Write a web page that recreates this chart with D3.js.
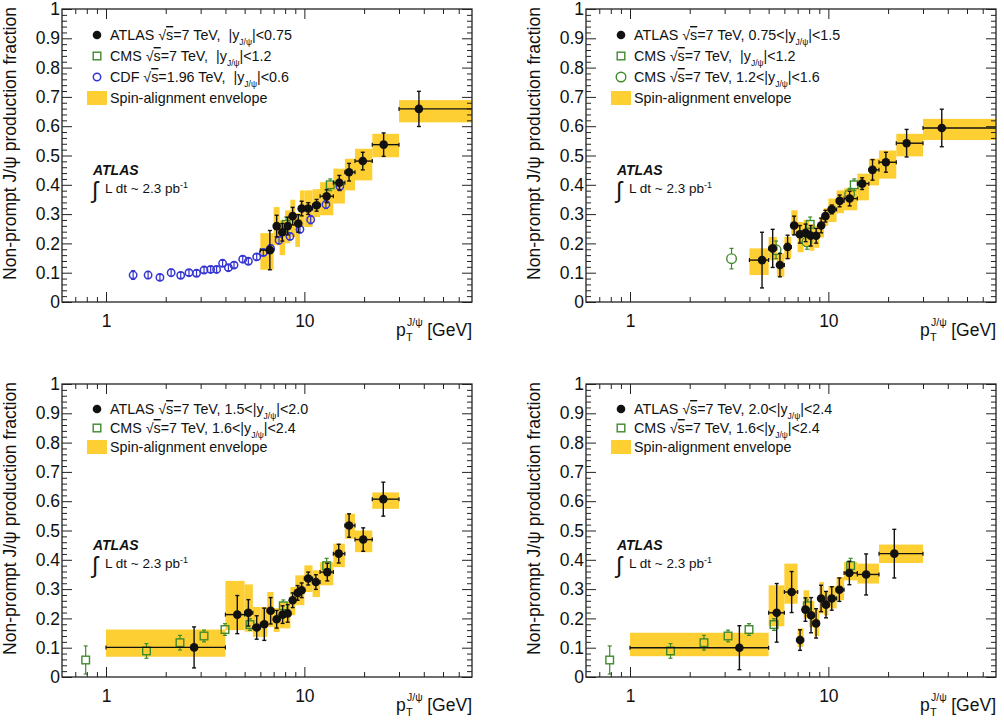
<!DOCTYPE html>
<html><head><meta charset="utf-8">
<script src="https://cdn.jsdelivr.net/npm/d3@7/dist/d3.min.js"></script>
<style>
body{margin:0;background:#fff}
text{font-family:"Liberation Sans",Arial,Helvetica,sans-serif;white-space:pre}
</style>
</head><body>
<svg id="c" width="1004" height="723"></svg>
<script>
// ---------------- DATA ----------------
const ptDomain = [0.6, 70];
const yMajorTicks = [0,0.1,0.2,0.3,0.4,0.5,0.6,0.7,0.8,0.9,1];
const yTickLabels = ["0","0.1","0.2","0.3","0.4","0.5","0.6","0.7","0.8","0.9","1"];
const xMajorTicks = [1,10];
const xTickLabels = ["1","10"];
const xMinorTicks = [0.7,0.8,0.9,2,3,4,5,6,7,8,9,20,30,40,50,60];

// ATLAS: [ptLo, ptHi, pt, fraction, statErr, envelopeLo, envelopeHi]
const atlasY0_075 = [
 [6,7,6.7,0.177,0.067,0.11,0.235],
 [7,7.5,7.25,0.259,0.037,0.194,0.324],
 [7.5,8,7.74,0.238,0.03,0.16,0.279],
 [8,8.5,8.24,0.259,0.03,0.2,0.313],
 [8.5,9,8.73,0.293,0.03,0.222,0.349],
 [9,9.5,9.32,0.268,0.03,0.188,0.303],
 [9.5,10,9.69,0.319,0.025,0.256,0.381],
 [10,11,10.46,0.319,0.02,0.256,0.381],
 [11,12,11.53,0.33,0.02,0.29,0.385],
 [12,14,12.95,0.361,0.022,0.296,0.409],
 [14,16,15.0,0.407,0.025,0.336,0.455],
 [16,18,16.8,0.443,0.03,0.381,0.489],
 [18,22,19.7,0.481,0.03,0.415,0.523],
 [22,30,25.1,0.537,0.04,0.494,0.574],
 [30,70,37.8,0.659,0.06,0.613,0.689]
];
const atlasY075_15 = [
 [4,5,4.63,0.143,0.095,0.092,0.183],
 [5,5.5,5.24,0.183,0.065,0.143,0.222],
 [5.5,6,5.7,0.126,0.04,0.086,0.166],
 [6,6.5,6.23,0.188,0.04,0.147,0.222],
 [6.5,7,6.72,0.261,0.032,0.228,0.313],
 [7,7.5,7.18,0.231,0.03,0.17,0.273],
 [7.5,8,7.68,0.236,0.03,0.19,0.28],
 [8,8.5,8.15,0.226,0.035,0.175,0.265],
 [8.5,9,8.68,0.226,0.025,0.185,0.26],
 [9,9.5,9.2,0.261,0.025,0.22,0.29],
 [9.5,10,9.66,0.293,0.02,0.26,0.32],
 [10,11,10.4,0.316,0.015,0.273,0.353],
 [11,12,11.4,0.345,0.02,0.303,0.381],
 [12,14,12.8,0.353,0.025,0.313,0.388],
 [14,16,14.8,0.404,0.02,0.347,0.438],
 [16,18,16.7,0.451,0.035,0.398,0.489],
 [18,22,19.5,0.477,0.034,0.421,0.517],
 [22,30,24.8,0.542,0.047,0.497,0.574],
 [30,70,37.3,0.594,0.064,0.553,0.625]
];
const atlasY15_20 = [
 [1,4,2.78,0.101,0.07,0.069,0.162],
 [4,5,4.59,0.213,0.065,0.16,0.328],
 [5,5.5,5.22,0.219,0.045,0.155,0.316],
 [5.5,6,5.75,0.169,0.04,0.137,0.239],
 [6,6.5,6.28,0.18,0.055,0.137,0.239],
 [6.5,7,6.76,0.226,0.045,0.171,0.29],
 [7,7.5,7.25,0.197,0.03,0.154,0.235],
 [7.5,8,7.77,0.213,0.03,0.166,0.256],
 [8,8.5,8.24,0.217,0.03,0.166,0.256],
 [8.5,9,8.73,0.262,0.025,0.211,0.307],
 [9,9.5,9.25,0.287,0.025,0.245,0.347],
 [9.5,10,9.69,0.296,0.025,0.245,0.347],
 [10,11,10.46,0.336,0.022,0.29,0.381],
 [11,12,11.43,0.324,0.025,0.273,0.364],
 [12,14,13.05,0.358,0.03,0.313,0.392],
 [14,16,14.9,0.421,0.032,0.375,0.455],
 [16,18,16.8,0.517,0.04,0.472,0.557],
 [18,22,19.8,0.469,0.04,0.426,0.5],
 [22,30,25.0,0.607,0.058,0.574,0.63]
];
const atlasY20_24 = [
 [1,5,3.56,0.1,0.075,0.071,0.151],
 [5,6,5.49,0.219,0.1,0.173,0.313],
 [6,7,6.53,0.29,0.07,0.25,0.387],
 [7,7.5,7.2,0.126,0.035,0.103,0.166],
 [7.5,8,7.66,0.23,0.04,0.2,0.296],
 [8,8.5,8.18,0.211,0.06,0.17,0.26],
 [8.5,9,8.67,0.183,0.05,0.14,0.23],
 [9,9.5,9.19,0.268,0.045,0.217,0.324],
 [9.5,10,9.73,0.247,0.045,0.21,0.29],
 [10,11,10.4,0.268,0.04,0.234,0.31],
 [11,12,11.36,0.298,0.04,0.262,0.341],
 [12,14,12.76,0.355,0.04,0.33,0.392],
 [14,18,15.5,0.35,0.07,0.319,0.387],
 [18,30,21.5,0.421,0.083,0.389,0.452]
];
// Other experiments: [pt, fraction, err]
const cdfY06 = [
 [1.37,0.092,0.015],[1.63,0.092,0.012],[1.87,0.084,0.01],[2.13,0.1,0.012],[2.38,0.091,0.01],
 [2.62,0.1,0.01],[2.86,0.098,0.01],[3.12,0.109,0.01],[3.37,0.111,0.01],[3.61,0.111,0.01],
 [3.87,0.132,0.01],[4.14,0.117,0.01],[4.42,0.126,0.01],[4.89,0.146,0.01],[5.22,0.139,0.01],
 [5.75,0.154,0.01],[6.21,0.169,0.01],[6.76,0.183,0.01],[7.45,0.211,0.012],[8.46,0.224,0.012],
 [9.5,0.248,0.012],[10.76,0.281,0.014],[12.85,0.333,0.014],[15.1,0.395,0.015]
];
const cmsY0_12 = [[8.1,0.265,0.025],[13.5,0.40,0.02]];
const cmsY12_16 = [[3.25,0.148,0.035],[5.45,0.178,0.03],[7.8,0.205,0.025],[12.8,0.368,0.02]];
const cmsY16_24 = [[0.79,0.058,0.048],[1.6,0.089,0.025],[2.36,0.117,0.025],[3.12,0.14,0.02],
 [3.98,0.162,0.02],[5.32,0.179,0.02],[7.83,0.243,0.02],[12.95,0.38,0.025]];

// Legend texts: [before subscript, subscript, after]
const legTL = [["ATLAS √s=7 TeV,  |y","J/ψ","|<0.75"],["CMS √s=7 TeV,  |y","J/ψ","|<1.2"],["CDF √s=1.96 TeV,  |y","J/ψ","|<0.6"],["Spin-alignment envelope","",""]];
const legTR = [["ATLAS √s=7 TeV, 0.75<|y","J/ψ","|<1.5"],["CMS √s=7 TeV,  |y","J/ψ","|<1.2"],["CMS √s=7 TeV, 1.2<|y","J/ψ","|<1.6"],["Spin-alignment envelope","",""]];
const legBL = [["ATLAS √s=7 TeV, 1.5<|y","J/ψ","|<2.0"],["CMS √s=7 TeV, 1.6<|y","J/ψ","|<2.4"],["Spin-alignment envelope","",""]];
const legBR = [["ATLAS √s=7 TeV, 2.0<|y","J/ψ","|<2.4"],["CMS √s=7 TeV, 1.6<|y","J/ψ","|<2.4"],["Spin-alignment envelope","",""]];

const yTitle = "Non-prompt J/ψ production fraction";
const lumiText = "L dt ~ 2.3 pb";

// ---------------- STYLE / LAYOUT ----------------
const C = {band:"#FECF33", atlas:"#111", cms:"#3f8a2c", cdf:"#3535d4", axis:"#222"};
const W = 410, H = 293;
const panels = [
 {left:62, top:9, atlas:atlasY0_075, others:[{kind:"cdf",data:cdfY06},{kind:"cmsSq",data:cmsY0_12}],
  legend:legTL, kinds:["atlas","cmsSq","cdf","band"], rowY:[26,47,68,89]},
 {left:586, top:9, atlas:atlasY075_15, others:[{kind:"cmsSq",data:cmsY0_12},{kind:"cmsCirc",data:cmsY12_16}],
  legend:legTR, kinds:["atlas","cmsSq","cmsCirc","band"], rowY:[26,47,68,89]},
 {left:62, top:384, atlas:atlasY15_20, others:[{kind:"cmsSq",data:cmsY16_24}],
  legend:legBL, kinds:["atlas","cmsSq","band"], rowY:[25,44,63]},
 {left:586, top:384, atlas:atlasY20_24, others:[{kind:"cmsSq",data:cmsY16_24}],
  legend:legBR, kinds:["atlas","cmsSq","band"], rowY:[25,44,63]}
];

const svg = d3.select("#c");
const x = d3.scaleLog().domain(ptDomain).range([0, W]);
const y = d3.scaleLinear().domain([0,1]).range([H, 0]);
const yMinor = d3.range(0, 1.0001, 0.02).filter(v => Math.abs(v*10 - Math.round(v*10)) > 1e-6);

function drawMarker(g, kind, cx, cy) {
  if (kind === "atlas") g.append("circle").attr("cx",cx).attr("cy",cy).attr("r",4.3).attr("fill",C.atlas);
  else if (kind === "cdf") g.append("circle").attr("cx",cx).attr("cy",cy).attr("r",3.7).attr("fill","none").attr("stroke",C.cdf).attr("stroke-width",1.5);
  else if (kind === "cmsCirc") g.append("circle").attr("cx",cx).attr("cy",cy).attr("r",4.8).attr("fill","none").attr("stroke",C.cms).attr("stroke-width",1.4);
  else if (kind === "cmsSq") g.append("rect").attr("x",cx-3.8).attr("y",cy-3.8).attr("width",7.6).attr("height",7.6).attr("fill","none").attr("stroke",C.cms).attr("stroke-width",1.4);
}
function vbar(g, cx, y1, y2, color, w) {
  g.append("line").attr("x1",cx).attr("x2",cx).attr("y1",y1).attr("y2",y2).attr("stroke",color).attr("stroke-width",w);
  [y1,y2].forEach(yy => g.append("line").attr("x1",cx-2).attr("x2",cx+2).attr("y1",yy).attr("y2",yy).attr("stroke",color).attr("stroke-width",w));
}

panels.forEach(p => {
  const g = svg.append("g").attr("transform", `translate(${p.left},${p.top})`);
  const clip = g.append("g");
  // envelope bands
  clip.selectAll("rect.band").data(p.atlas).enter().append("rect").attr("class","band")
    .attr("x", d => x(d[0])).attr("width", d => x(d[1]) - x(d[0]))
    .attr("y", d => y(d[6])).attr("height", d => y(d[5]) - y(d[6]))
    .attr("fill", C.band);
  // other experiments
  p.others.forEach(o => {
    const col = o.kind === "cdf" ? C.cdf : C.cms;
    const half = o.kind === "cdf" ? 0 : (o.kind === "cmsCirc" ? 4.8 : 3.8);
    o.data.forEach(d => {
      const cx = x(d[0]), cy = y(d[1]);
      const yt = y(d[1]+d[2]), yb = y(d[1]-d[2]);
      if (half === 0) vbar(clip, cx, yb, yt, col, 1.2);
      else {
        if (cy - half > yt) { clip.append("line").attr("x1",cx).attr("x2",cx).attr("y1",yt).attr("y2",cy-half).attr("stroke",col).attr("stroke-width",1.2);
          clip.append("line").attr("x1",cx-2).attr("x2",cx+2).attr("y1",yt).attr("y2",yt).attr("stroke",col).attr("stroke-width",1.2); }
        if (yb > cy + half) { clip.append("line").attr("x1",cx).attr("x2",cx).attr("y1",cy+half).attr("y2",yb).attr("stroke",col).attr("stroke-width",1.2);
          clip.append("line").attr("x1",cx-2).attr("x2",cx+2).attr("y1",yb).attr("y2",yb).attr("stroke",col).attr("stroke-width",1.2); }
      }
      drawMarker(clip, o.kind, cx, cy);
    });
  });
  // ATLAS points
  p.atlas.forEach(d => {
    const cy = y(d[3]);
    const xl = x(d[0]), xr = x(d[1]);
    clip.append("line").attr("x1",xl).attr("x2",xr).attr("y1",cy).attr("y2",cy).attr("stroke",C.atlas).attr("stroke-width",1.4);
    [xl,xr].forEach(xx => { if (xx > 1 && xx < W-1) clip.append("line").attr("x1",xx).attr("x2",xx).attr("y1",cy-2).attr("y2",cy+2).attr("stroke",C.atlas).attr("stroke-width",1.2); });
    vbar(clip, x(d[2]), y(d[3]-d[4]), y(d[3]+d[4]), C.atlas, 1.4);
    drawMarker(clip, "atlas", x(d[2]), cy);
  });

  // axes (ticks inward, ROOT style)
  const styleAxis = sel => { sel.selectAll("line").attr("stroke",C.axis); sel.select(".domain").remove(); };
  const lab = g.append("g").call(d3.axisLeft(y).tickValues(yMajorTicks).tickSize(-10).tickPadding(2)
      .tickFormat((d,i) => yTickLabels[i])).call(styleAxis);
  lab.selectAll("text").attr("font-size",17.5).attr("fill","#111").attr("font-family",'"Liberation Sans",Arial,sans-serif');
  g.append("g").call(d3.axisLeft(y).tickValues(yMinor).tickSize(-5).tickFormat("")).call(styleAxis);
  g.append("g").attr("transform",`translate(${W},0)`).call(d3.axisRight(y).tickValues(yMajorTicks).tickSize(-10).tickFormat("")).call(styleAxis);
  g.append("g").attr("transform",`translate(${W},0)`).call(d3.axisRight(y).tickValues(yMinor).tickSize(-5).tickFormat("")).call(styleAxis);
  const bx = g.append("g").attr("transform",`translate(0,${H})`).call(d3.axisBottom(x).tickValues(xMajorTicks).tickSize(-10).tickPadding(13)
      .tickFormat((d,i) => xTickLabels[i])).call(styleAxis);
  bx.selectAll("text").attr("font-size",17.5).attr("fill","#111").attr("font-family",'"Liberation Sans",Arial,sans-serif');
  g.append("g").attr("transform",`translate(0,${H})`).call(d3.axisBottom(x).tickValues(xMinorTicks).tickSize(-5).tickFormat("")).call(styleAxis);
  g.append("g").call(d3.axisTop(x).tickValues(xMajorTicks).tickSize(-10).tickFormat("")).call(styleAxis);
  g.append("g").call(d3.axisTop(x).tickValues(xMinorTicks).tickSize(-5).tickFormat("")).call(styleAxis);
  g.append("rect").attr("x",0).attr("y",0).attr("width",W).attr("height",H).attr("fill","none").attr("stroke",C.axis).attr("stroke-width",1.3);

  // y title
  const yt = g.append("text").attr("transform",`translate(${-46},-2) rotate(-90)`).attr("text-anchor","end")
    .attr("font-size",16).attr("fill","#111").text(yTitle);
  const L = yt.node().getComputedTextLength();
  yt.attr("font-size", 16*273/L);

  // x title
  const xt = g.append("g").attr("transform",`translate(${W},${H+34})`);
  xt.append("text").attr("text-anchor","end").attr("font-size",17.5).attr("fill","#111").text("[GeV]");
  xt.append("text").attr("x",-76).attr("font-size",17.5).attr("fill","#111").text("p");
  xt.append("text").attr("x",-66).attr("y",5).attr("font-size",11).attr("fill","#111").text("T");
  xt.append("text").attr("x",-65).attr("y",-10).attr("font-size",10.5).attr("fill","#111").text("J/ψ");

  // legend
  p.legend.forEach((row, i) => {
    const ry = p.rowY[i], kind = p.kinds[i];
    if (kind === "band") g.append("rect").attr("x",25).attr("y",ry-7).attr("width",20).attr("height",14).attr("fill",C.band);
    else drawMarker(g, kind, 35, ry);
    const t = g.append("text").attr("x",48).attr("y",ry+5).attr("font-size",14.3).attr("fill","#111");
    const parts = row[0].split("√s");
    if (parts.length > 1) {
      t.append("tspan").text(parts[0] + "√");
      t.append("tspan").style("text-decoration","overline").text("s");
      t.append("tspan").text(parts[1]);
    } else t.append("tspan").text(row[0]);
    if (row[1]) {
      t.append("tspan").attr("dy",5).attr("font-size",8.5).text(row[1]);
      t.append("tspan").attr("dy",-5).text(row[2]);
    }
  });

  // ATLAS label
  g.append("text").attr("x",31).attr("y",166).attr("font-size",14).attr("font-weight","bold").attr("font-style","italic").attr("fill","#111").text("ATLAS");
  g.append("text").attr("x",30).attr("y",189).attr("font-size",23).attr("fill","#111").text("∫");
  const lt = g.append("text").attr("x",43).attr("y",184).attr("font-size",13.5).attr("fill","#111").text(lumiText);
  lt.append("tspan").attr("dy",-5).attr("font-size",9).text("-1");
});
</script>
</body></html>
